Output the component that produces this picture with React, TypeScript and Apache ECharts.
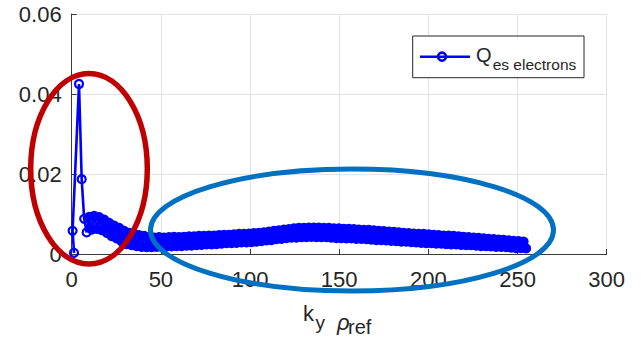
import React, { useEffect, useRef } from "react";
import * as echarts from "echarts";

const kyPeak = [1.3, 0.5, 4.1, 5.6];
const qPeak = [0.0003, 0.0058, 0.0425, 0.0187];

const kyBand = [
  7.0, 8.4, 9.8, 11.2, 12.6, 14.0, 15.4, 16.8, 18.2, 19.6,
  21.0, 22.4, 23.8, 25.2, 26.6, 28.0, 29.4, 30.8, 32.2, 33.6,
  35.0, 36.4, 37.8, 39.2, 40.6, 42.0, 43.4, 44.8, 46.2, 47.6,
  49.0, 50.4, 51.8, 53.2, 54.6, 56.0, 57.4, 58.8, 60.2, 61.6,
  63.0, 64.4, 65.8, 67.2, 68.6, 70.0, 71.4, 72.8, 74.2, 75.6,
  77.0, 78.4, 79.8, 81.2, 82.6, 84.0, 85.4, 86.8, 88.2, 89.6,
  91.0, 92.4, 93.8, 95.2, 96.6, 98.0, 99.4, 100.8, 102.2, 103.6,
  105.0, 106.4, 107.8, 109.2, 110.6, 112.0, 113.4, 114.8, 116.2, 117.6,
  119.0, 120.4, 121.8, 123.2, 124.6, 126.0, 127.4, 128.8, 130.2, 131.6,
  133.0, 134.4, 135.8, 137.2, 138.6, 140.0, 141.4, 142.8, 144.2, 145.6,
  147.0, 148.4, 149.8, 151.2, 152.6, 154.0, 155.4, 156.8, 158.2, 159.6,
  161.0, 162.4, 163.8, 165.2, 166.6, 168.0, 169.4, 170.8, 172.2, 173.6,
  175.0, 176.4, 177.8, 179.2, 180.6, 182.0, 183.4, 184.8, 186.2, 187.6,
  189.0, 190.4, 191.8, 193.2, 194.6, 196.0, 197.4, 198.8, 200.2, 201.6,
  203.0, 204.4, 205.8, 207.2, 208.6, 210.0, 211.4, 212.8, 214.2, 215.6,
  217.0, 218.4, 219.8, 221.2, 222.6, 224.0, 225.4, 226.8, 228.2, 229.6,
  231.0, 232.4, 233.8, 235.2, 236.6, 238.0, 239.4, 240.8, 242.2, 243.6,
  245.0, 246.4, 247.8, 249.2, 250.6, 252.0, 253.4, 254.8,
];

const qBand = [
  0.0088, 0.0054, 0.0093, 0.0061, 0.0095, 0.0063, 0.0092, 0.006, 0.0086, 0.0053,
  0.0078, 0.0045, 0.0071, 0.0039, 0.0065, 0.0031, 0.0058, 0.0025, 0.0053, 0.0022,
  0.005, 0.002, 0.0047, 0.0018, 0.0045, 0.0017, 0.0042, 0.0017, 0.0041, 0.0018,
  0.0042, 0.0018, 0.0041, 0.0019, 0.0042, 0.0019, 0.0043, 0.002, 0.0042, 0.002,
  0.0043, 0.0021, 0.0044, 0.0021, 0.0044, 0.0022, 0.0045, 0.0023, 0.0045, 0.0024,
  0.0046, 0.0024, 0.0046, 0.0025, 0.0047, 0.0026, 0.0048, 0.0027, 0.0048, 0.0027,
  0.0049, 0.0028, 0.005, 0.0029, 0.005, 0.0029, 0.0051, 0.003, 0.0052, 0.0031,
  0.0053, 0.0032, 0.0054, 0.0034, 0.0056, 0.0035, 0.0058, 0.0037, 0.0059, 0.0038,
  0.0061, 0.004, 0.0062, 0.0041, 0.0064, 0.0041, 0.0065, 0.0042, 0.0065, 0.0042,
  0.0066, 0.0043, 0.0066, 0.0042, 0.0066, 0.0042, 0.0065, 0.0042, 0.0065, 0.0041,
  0.0064, 0.004, 0.0064, 0.004, 0.0063, 0.0039, 0.0063, 0.0039, 0.0062, 0.0038,
  0.0061, 0.0038, 0.006, 0.0037, 0.006, 0.0036, 0.0059, 0.0035, 0.0058, 0.0035,
  0.0057, 0.0034, 0.0056, 0.0033, 0.0055, 0.0032, 0.0054, 0.0031, 0.0053, 0.0031,
  0.0052, 0.003, 0.0051, 0.0029, 0.005, 0.0028, 0.005, 0.0027, 0.0049, 0.0027,
  0.0048, 0.0026, 0.0047, 0.0026, 0.0046, 0.0025, 0.0046, 0.0024, 0.0045, 0.0024,
  0.0044, 0.0023, 0.0043, 0.0022, 0.0042, 0.0022, 0.0041, 0.0021, 0.004, 0.002,
  0.0039, 0.002, 0.0038, 0.0019, 0.0037, 0.0018, 0.0036, 0.0018, 0.0035, 0.0017,
  0.0034, 0.0016, 0.0033, 0.0015, 0.0032, 0.0015, 0.0031, 0.0014,
];

const xTicks = { min: 0, max: 300, interval: 50 };
const yTicks = { min: 0, max: 0.06, interval: 0.02 };

const FONT = "'Liberation Sans', Arial, Helvetica, sans-serif";
const TXT = "#262626";
const AX = "#3a3a3a";
const GRIDC = "#e3e3e3";
const BLUE = "#0000ff";

export default function App() {
  const ref = useRef<HTMLDivElement>(null);

  useEffect(() => {
    if (!ref.current) return;
    const chart = echarts.init(ref.current, undefined, { renderer: "svg" });

    const hollow = { color: "rgba(0,0,0,0)", borderColor: BLUE, borderWidth: 2.2 };
    const solid = { color: BLUE, borderColor: BLUE, borderWidth: 2.2 };
    const data = kyPeak
      .map((k, i) => ({ value: [k, qPeak[i]], itemStyle: hollow }))
      .concat(
        kyBand.map((k, i) => ({
          value: [k, qBand[i]],
          itemStyle: i < 2 ? hollow : solid,
        }))
      );

    const option: any = {
      animation: false,
      textStyle: { fontFamily: FONT },
      grid: { left: 71.7, right: 34.3, top: 14, bottom: 86, containLabel: false },
      xAxis: {
        type: "value",
        min: xTicks.min,
        max: xTicks.max,
        interval: xTicks.interval,
        axisLine: { show: true, onZero: false, lineStyle: { color: AX, width: 1 } },
        axisTick: { show: true, inside: true, length: 5, lineStyle: { color: AX } },
        axisLabel: { fontSize: 22, color: TXT, margin: 14, fontFamily: FONT },
        splitLine: { show: true, lineStyle: { color: GRIDC, width: 1 } },
      },
      yAxis: {
        type: "value",
        min: yTicks.min,
        max: yTicks.max,
        interval: yTicks.interval,
        axisLine: { show: true, onZero: false, lineStyle: { color: AX, width: 1 } },
        axisTick: { show: true, inside: true, length: 5, lineStyle: { color: AX } },
        axisLabel: {
          fontSize: 22,
          color: TXT,
          margin: 10,
          fontFamily: FONT,
          formatter: (v: number) => (v === 0 ? "0" : v.toFixed(2)),
        },
        splitLine: { show: true, lineStyle: { color: GRIDC, width: 1 } },
      },
      series: [
        {
          name: "Q es electrons",
          type: "line",
          data,
          symbol: "circle",
          symbolSize: 8,
          silent: true,
          lineStyle: { color: BLUE, width: 2.6 },
          itemStyle: hollow,
          emphasis: { disabled: true },
          z: 2,
        },
      ],
      graphic: [
        // legend box
        {
          type: "rect",
          z: 120,
          shape: { x: 412.7, y: 36, width: 171.3, height: 41.7 },
          style: { fill: "#ffffff", stroke: TXT, lineWidth: 1 },
        },
        {
          type: "line",
          z: 121,
          shape: { x1: 420, y1: 56.7, x2: 470, y2: 56.7 },
          style: { stroke: BLUE, lineWidth: 2.6 },
        },
        {
          type: "circle",
          z: 121,
          shape: { cx: 442, cy: 56.7, r: 4 },
          style: { fill: "none", stroke: BLUE, lineWidth: 2.6 },
        },
        {
          type: "text",
          z: 121,
          style: {
            x: 476,
            y: 54.8,
            text: "Q",
            font: `20px ${FONT}`,
            fill: TXT,
            verticalAlign: "middle",
          },
        },
        {
          type: "text",
          z: 121,
          style: {
            x: 492.7,
            y: 64.6,
            text: "es electrons",
            font: `15.5px ${FONT}`,
            fill: TXT,
            verticalAlign: "middle",
          },
        },
        // x-axis label k_y rho_ref
        {
          type: "text",
          z: 121,
          style: { x: 303, y: 313.4, text: "k", font: `22px ${FONT}`, fill: TXT, verticalAlign: "middle" },
        },
        {
          type: "text",
          z: 121,
          style: { x: 315.5, y: 322.5, text: "y", font: `19px ${FONT}`, fill: TXT, verticalAlign: "middle" },
        },
        {
          type: "text",
          z: 121,
          style: { x: 337, y: 322.4, text: "ρ", font: `italic 22px ${FONT}`, fill: TXT, verticalAlign: "middle" },
        },
        {
          type: "text",
          z: 121,
          style: { x: 348, y: 326.6, text: "ref", font: `20px ${FONT}`, fill: TXT, verticalAlign: "middle" },
        },
        // annotation ellipses
        {
          type: "ellipse",
          z: 110,
          shape: { cx: 89, cy: 168.7, rx: 58.3, ry: 95.3 },
          style: { fill: "none", stroke: "#c00000", lineWidth: 5.5 },
        },
        {
          type: "ellipse",
          z: 110,
          shape: { cx: 352, cy: 230, rx: 201.5, ry: 61 },
          style: { fill: "none", stroke: "#0070c0", lineWidth: 5 },
        },
      ],
    };

    chart.setOption(option);
    return () => chart.dispose();
  }, []);

  return (
    <div
      ref={ref}
      style={{ position: "absolute", left: 0, top: 0, width: 641, height: 340, background: "#ffffff" }}
    />
  );
}
